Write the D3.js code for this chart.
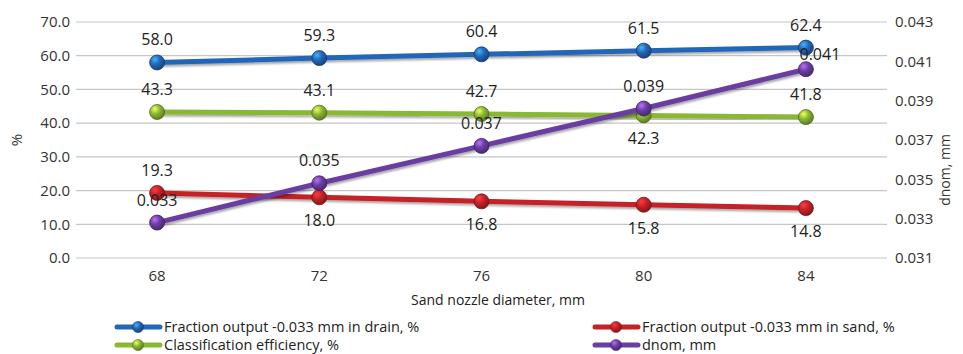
<!DOCTYPE html>
<html><head><meta charset="utf-8">
<script src="https://cdn.jsdelivr.net/npm/d3@7"></script>
<style>body{margin:0;background:#fff}svg{font-family:"Open Sans",sans-serif}</style>
</head><body><svg id="c" width="963" height="354"></svg>
<script>
const categories = ["68","72","76","80","84"];
const drain = [58.0, 59.3, 60.4, 61.5, 62.4];
const sand = [19.3, 18.0, 16.8, 15.8, 14.8];
const efficiency = [43.3, 43.1, 42.7, 42.3, 41.8];
const dnom = [0.0328, 0.0348, 0.0367, 0.0386, 0.0406];
const leftTicks = [0,10,20,30,40,50,60,70];
const rightTicks = [0.031,0.033,0.035,0.037,0.039,0.041,0.043];

const svg = d3.select("#c");
const L = 76, R = 887, T = 22, B = 258;
const x = d3.scaleBand().domain(categories).range([L, R]);
const yL = d3.scaleLinear().domain([0,70]).range([B, T]);
const yR = d3.scaleLinear().domain([0.031,0.043]).range([B, T]);

const defs = svg.append("defs");
function grad(id, c){
  const g = defs.append("radialGradient").attr("id", id).attr("cx","35%").attr("cy","30%").attr("r","75%");
  g.append("stop").attr("offset","0%").attr("stop-color", d3.color(c).brighter(1.6));
  g.append("stop").attr("offset","45%").attr("stop-color", c);
  g.append("stop").attr("offset","100%").attr("stop-color", d3.color(c).darker(1.2));
}
const f = defs.append("filter").attr("id","sh").attr("x","-20%").attr("y","-50%").attr("width","140%").attr("height","200%");
f.append("feDropShadow").attr("dx",1).attr("dy",2).attr("stdDeviation",1.2).attr("flood-color","#000").attr("flood-opacity",0.35);

// gridlines
svg.append("g").selectAll("line").data(leftTicks).join("line")
  .attr("x1", L).attr("x2", R).attr("y1", d=>yL(d)).attr("y2", d=>yL(d))
  .attr("stroke", "#c6c6c6").attr("stroke-width", 1.2);

// left axis
const ga = svg.append("g").attr("transform", `translate(${L},0)`)
  .call(d3.axisLeft(yL).tickValues(leftTicks).tickFormat(d3.format(".1f")).tickSize(0).tickPadding(6));
ga.select(".domain").remove();
ga.selectAll("text").attr("font-size", 15).attr("fill", "#333").attr("font-family","Open Sans");

// right axis
const gr = svg.append("g").attr("transform", `translate(${R},0)`)
  .call(d3.axisRight(yR).tickValues(rightTicks).tickFormat(d3.format(".3f")).tickSize(0).tickPadding(8));
gr.select(".domain").remove();
gr.selectAll("text").attr("font-size", 15).attr("fill", "#333").attr("font-family","Open Sans");

// bottom axis
const gb = svg.append("g").attr("transform", `translate(0,${B})`)
  .call(d3.axisBottom(x).tickSize(0).tickPadding(12));
gb.select(".domain").remove();
gb.selectAll("text").attr("font-size", 15).attr("fill", "#333").attr("font-family","Open Sans");

// axis titles
svg.append("text").attr("transform", "translate(22,140) rotate(-90)").attr("text-anchor","middle")
  .attr("font-size", 15).attr("fill","#333").text("%");
svg.append("text").attr("transform", "translate(950,170) rotate(-90)").attr("text-anchor","middle")
  .attr("font-size", 14).attr("fill","#333").text("dnom, mm");
svg.append("text").attr("x", 498).attr("y", 305).attr("text-anchor","middle")
  .attr("font-size", 14).attr("fill","#222").text("Sand nozzle diameter, mm");

const cx = d => x(d) + x.bandwidth()/2;
const series = [
  {name:"Fraction output -0.033 mm in drain, %", vals: drain, y: yL, color:"#2466b8", id:"gb", fmt:d3.format(".1f"), pos:["a","a","a","a","a"]},
  {name:"Fraction output -0.033 mm in sand, %", vals: sand, y: yL, color:"#c42226", id:"gr", fmt:d3.format(".1f"), pos:["a","b","b","b","b"]},
  {name:"Classification efficiency, %", vals: efficiency, y: yL, color:"#8ab834", id:"gg", fmt:d3.format(".1f"), pos:["a","a","a","b","a"]},
  {name:"dnom, mm", vals: dnom, y: yR, color:"#6b3ea3", id:"gp", fmt:d3.format(".3f"), pos:["a","a","a","a","a"]}
];
const drawOrder = [2,1,3,0];
drawOrder.forEach(i => {
  const s = series[i];
  grad(s.id, s.color);
  const g = svg.append("g");
  const line = d3.line().x((d,j)=>cx(categories[j])).y(d=>s.y(d));
  g.append("path").attr("d", line(s.vals)).attr("fill","none").attr("stroke", s.color)
    .attr("stroke-width", 5).attr("filter","url(#sh)");
  g.selectAll("circle").data(s.vals).join("circle")
    .attr("cx",(d,j)=>cx(categories[j])).attr("cy", d=>s.y(d)).attr("r", 7.5)
    .attr("fill", `url(#${s.id})`).attr("stroke", d3.color(s.color).darker(1.5)).attr("stroke-width",0.8);
});
// labels
series.forEach((s,i) => {
  svg.append("g").selectAll("text").data(s.vals).join("text")
    .attr("x",(d,j)=>cx(categories[j]) + (i===3 && j===4 ? 14 : 0))
    .attr("y",(d,j)=> s.y(d) + (s.pos[j]==="a" ? (i===3 && j===4 ? -9 : -17) : 29))
    .attr("text-anchor","middle").attr("font-size", 16).attr("fill","#222")
    .text(d=>s.fmt(d));
});

// legend
const leg = [
  {s:series[0], x:115, y:327},
  {s:series[1], x:593, y:327},
  {s:series[2], x:115, y:345},
  {s:series[3], x:593, y:345}
];
leg.forEach(l => {
  const g = svg.append("g");
  g.append("line").attr("x1", l.x+2).attr("x2", l.x+45).attr("y1", l.y).attr("y2", l.y)
    .attr("stroke", l.s.color).attr("stroke-width", 5).attr("stroke-linecap","round");
  g.append("circle").attr("cx", l.x+23).attr("cy", l.y).attr("r", 5.5)
    .attr("fill", `url(#${l.s.id})`).attr("stroke", d3.color(l.s.color).darker(1.5)).attr("stroke-width",0.6);
  g.append("text").attr("x", l.x+49).attr("y", l.y+5).attr("font-size", 14.5).attr("fill","#222").text(l.s.name);
});
</script></body></html>
